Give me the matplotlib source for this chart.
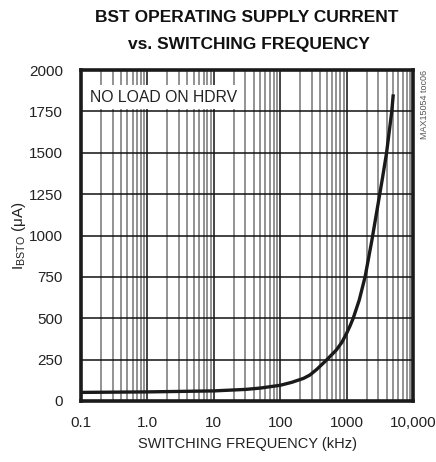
import numpy as np
import matplotlib
matplotlib.use("Agg")
import matplotlib.pyplot as plt
from matplotlib.ticker import FixedLocator, NullFormatter

plt.rcParams['font.family'] = ['Liberation Sans', 'DejaVu Sans']
plt.rcParams['mathtext.fontset'] = 'custom'
plt.rcParams['mathtext.rm'] = 'Liberation Sans'

# BST supply current vs switching frequency
freq_khz = [0.1, 1, 10, 30, 50, 100, 150, 225, 280, 355, 500, 700, 850, 1000,
            1130, 1260, 1550, 1900, 2400, 3470, 4000, 4790, 5020]
i_bsto_ua = [52, 55, 61, 70, 78, 95, 113, 137, 157, 191, 248, 308, 355, 409,
             455, 501, 610, 751, 970, 1347, 1500, 1750, 1843]

xticks = [0.1, 1, 10, 100, 1000, 10000]
xtick_labels = ["0.1", "1.0", "10", "100", "1000", "10,000"]
yticks = [0, 250, 500, 750, 1000, 1250, 1500, 1750, 2000]

fig = plt.figure(figsize=(4.36, 4.62), dpi=100)
ax = fig.add_axes([81/436, 61/462, 332/436, 331/462])

ax.set_xscale('log')
ax.set_xlim(0.1, 10000)
ax.set_ylim(0, 2000)

minors = [m * 10.0**d for d in range(-1, 4) for m in range(2, 10)]
ax.xaxis.set_major_locator(FixedLocator(xticks))
ax.xaxis.set_minor_locator(FixedLocator(minors))
ax.xaxis.set_minor_formatter(NullFormatter())
ax.set_xticklabels(xtick_labels)
ax.set_yticks(yticks)

ax.grid(True, which='major', axis='both', color='#111111', lw=1.1)
ax.grid(True, which='minor', axis='x', color='#808080', lw=1.2)
ax.set_axisbelow(True)

ax.plot(freq_khz, i_bsto_ua, color='#1a1a1a', lw=2.4, zorder=3)

ax.tick_params(which='both', length=0)
ax.tick_params(axis='y', pad=13, labelsize=11, colors='#222222')
ax.tick_params(axis='x', pad=11, labelsize=11, colors='#222222')
for s in ax.spines.values():
    s.set_linewidth(2.6)
    s.set_color('#1a1a1a')

ax.text(9/332, 1 - 27/331, "NO LOAD ON HDRV", transform=ax.transAxes, fontsize=11.3,
        ha='left', va='center', color='#222222', zorder=4,
        bbox=dict(facecolor='white', edgecolor='none', pad=3))

ax.set_xlabel("SWITCHING FREQUENCY (kHz)", fontsize=10.5, color='#222222', labelpad=5)
ax.set_ylabel(r"I$_{\mathregular{BSTO}}$ ($\mathregular{\mu}$A)", fontsize=11,
              color='#222222', labelpad=1)

fig.text(247/436, 1 - 18/462, "BST OPERATING SUPPLY CURRENT", ha='center', va='center',
         fontsize=12.5, fontweight='bold', color='#111111')
fig.text(249/436, 1 - 45/462, "vs. SWITCHING FREQUENCY", ha='center', va='center',
         fontsize=12.5, fontweight='bold', color='#111111')
fig.text(424/436, 1 - 70/462, "MAX15054 toc06", rotation=90, ha='center', va='top',
         fontsize=6.5, color='#555555')

fig.savefig("out.png", dpi=100)
